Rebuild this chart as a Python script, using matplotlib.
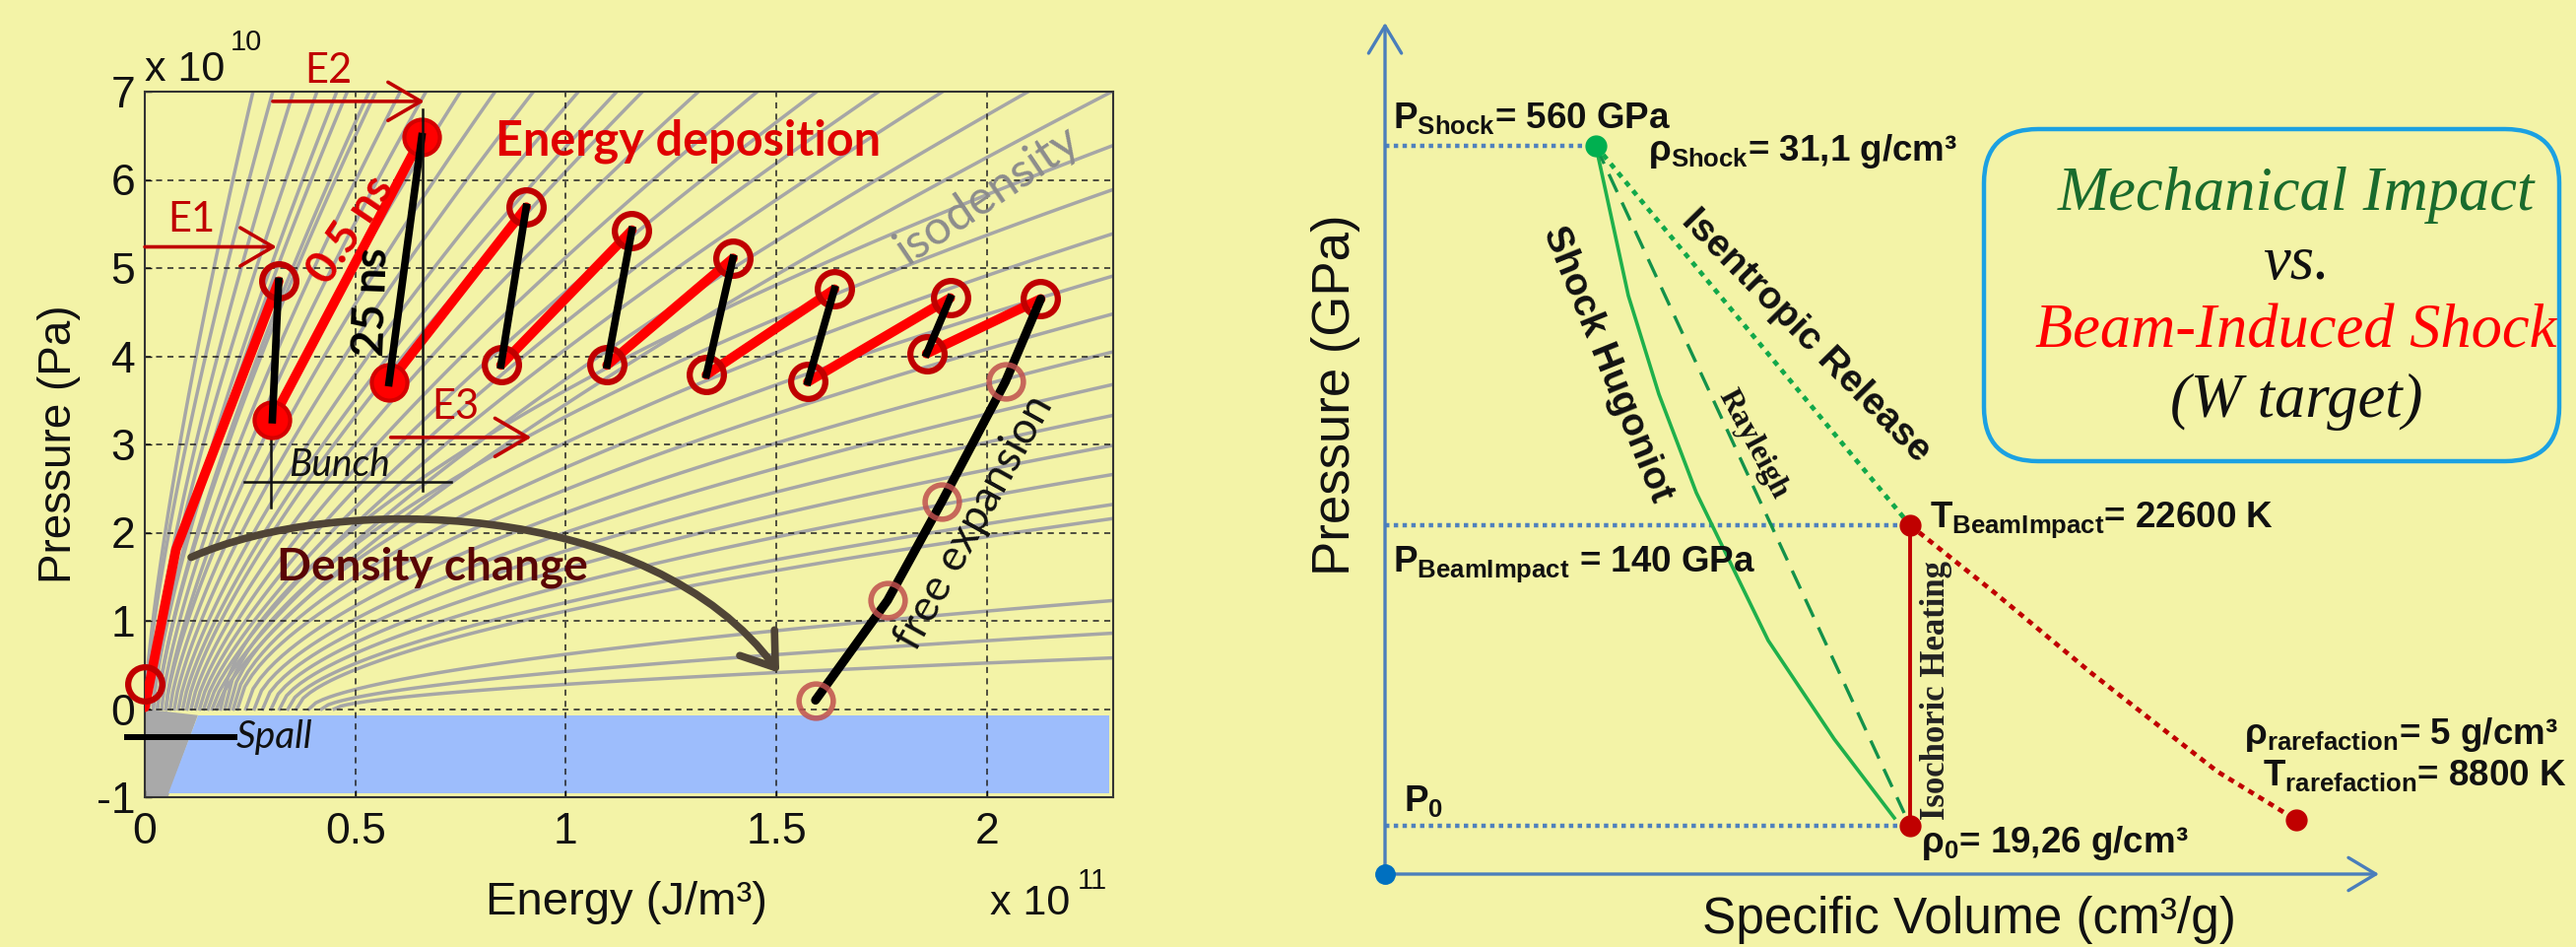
import numpy as np
import matplotlib.pyplot as plt
from matplotlib.patches import FancyArrowPatch, FancyBboxPatch, Polygon
from matplotlib.path import Path

plt.rcParams['mathtext.fontset'] = 'custom'
plt.rcParams['mathtext.rm'] = 'Liberation Sans'
plt.rcParams['mathtext.bf'] = 'Liberation Sans:bold'
plt.rcParams['mathtext.it'] = 'Liberation Sans:italic'

BG = '#f3f3a7'
SANS = 'Liberation Sans'
HUMAN = 'Lato'
SERIF = 'Liberation Serif'

# ---------------- left panel: P-E plane (E in 1e11 J/m3, P in 1e10 Pa) ----------------
energy_ticks = [0, 0.5, 1, 1.5, 2]
energy_labels = ['0', '0.5', '1', '1.5', '2']
pressure_ticks = [-1, 0, 1, 2, 3, 4, 5, 6, 7]
pressure_labels = ['-1', '0', '1', '2', '3', '4', '5', '6', '7']

# isodensity lines: where they leave the frame (top edge P=7 / right edge E=2.3) and where they start (P=0)
iso_top_E = [0.257, 0.304, 0.353, 0.409, 0.456, 0.481, 0.533, 0.549, 0.607, 0.668, 0.750, 0.832,
             0.923, 1.030, 1.121, 1.182, 1.315, 1.455, 1.596, 1.743, 1.895, 2.098, 2.297]
iso_top_start = [0.00, 0.00, 0.01, 0.01, 0.02, 0.02, 0.03, 0.03, 0.04, 0.05, 0.05, 0.06,
                 0.07, 0.08, 0.09, 0.10, 0.11, 0.12, 0.13, 0.14, 0.15, 0.16, 0.17]
iso_right_P = [6.39, 5.89, 5.39, 4.91, 4.48, 4.05, 3.68, 3.33, 2.99, 2.66, 2.32, 2.16, 1.23, 0.86, 0.58]
iso_right_start = [0.18, 0.19, 0.20, 0.21, 0.22, 0.24, 0.26, 0.28, 0.30, 0.32, 0.34, 0.36, 0.39, 0.42, 0.45]

# spall region and the crowded isodensity wedge next to it
spall_E = [0.126, 2.29, 2.29, 0.055]
spall_P = [-0.07, -0.07, -0.96, -0.96]
wedge_E = [0.0, 0.0, 0.126, 0.055]
wedge_P = [-1.0, 0.0, -0.07, -1.0]

# energy deposition path: bunch heating (red) and relaxation (black)
dep_start_E = [0.0, 0.074]
dep_start_P = [0.02, 1.81]
dep_top_E = [0.318, 0.658, 0.906, 1.157, 1.397, 1.638, 1.913, 2.128]
dep_top_P = [4.85, 6.49, 5.69, 5.43, 5.11, 4.76, 4.66, 4.65]
dep_bot_E = [0.303, 0.580, 0.846, 1.098, 1.334, 1.575, 1.857]
dep_bot_P = [3.28, 3.70, 3.90, 3.90, 3.79, 3.71, 4.03]
initial_E, initial_P = 0.0, 0.29

# free expansion after the last bunch
fe_E = [2.128, 2.044, 1.893, 1.764, 1.593]
fe_P = [4.65, 3.71, 2.35, 1.23, 0.10]

# density change arrow (cubic bezier control points)
dens_E = [0.11, 0.45, 1.20, 1.507]
dens_P = [1.72, 2.45, 2.40, 0.41]

# ---------------- right panel: schematic P-v diagram ----------------
shock_v, shock_p = 2.14, 7.39
beam_v, beam_p = 5.33, 3.54
init_v, init_p = 5.33, 0.49
rare_v, rare_p = 9.25, 0.55
hugoniot_v = [2.14, 2.47, 2.78, 3.16, 3.89, 4.56, 5.17]
hugoniot_p = [7.39, 5.87, 4.87, 3.87, 2.37, 1.37, 0.57]
rayleigh_v = [2.14, 5.27]
rayleigh_p = [7.39, 0.62]
release_v = [5.33, 6.17, 7.17, 8.45, 9.25]
release_p = [3.54, 2.87, 2.04, 1.04, 0.55]

W, H = 2615, 961
fig = plt.figure(figsize=(W / 100, H / 100), dpi=100, facecolor=BG)

# ======================= left panel =======================
ax = fig.add_axes([147 / W, 1 - 809 / H, 983 / W, 716 / H], facecolor=BG)
ax.set_xlim(0, 2.3)
ax.set_ylim(-1, 7)

for e_end, e0 in zip(iso_top_E, iso_top_start):
    e = np.linspace(e0, e_end, 120)
    p = 7.0 * ((e - e0) / (e_end - e0)) ** 0.75
    ax.plot(e, p, color='#a6a6a6', lw=2.5, zorder=1)
for p_end, e0 in zip(iso_right_P, iso_right_start):
    e = np.linspace(e0, 2.3, 120)
    p = p_end * ((e - e0) / (2.3 - e0)) ** 0.6
    ax.plot(e, p, color='#a6a6a6', lw=2.5, zorder=1)

ax.add_patch(Polygon(np.column_stack([wedge_E, wedge_P]), closed=True, fc='#a9a9a9', ec='none', zorder=1.2))
ax.add_patch(Polygon(np.column_stack([spall_E, spall_P]), closed=True, fc='#9dbdfc', ec='none', zorder=1.5))

ax.set_xticks(energy_ticks)
ax.set_xticklabels(energy_labels)
ax.set_yticks(pressure_ticks)
ax.set_yticklabels(pressure_labels)
ax.tick_params(direction='in', length=5, width=1, labelsize=32, colors='#111111')
ax.tick_params(axis='x', pad=11)
ax.tick_params(axis='y', pad=7)
for lab in ax.get_xticklabels() + ax.get_yticklabels():
    lab.set_family(SANS)
ax.grid(True, color='#222222', ls=(0, (4, 3.5)), lw=1.1)
for s in ax.spines.values():
    s.set_color('#333333')
    s.set_linewidth(1.5)

# bunch bracket
ax.plot([0.236, 0.727], [2.58, 2.58], color='#111111', lw=1.8, zorder=3)
ax.plot([0.299, 0.299], [2.28, 3.53], color='#111111', lw=1.8, zorder=3)
ax.plot([0.659, 0.659], [2.48, 6.80], color='#111111', lw=1.8, zorder=6)

# red heating segments
ax.plot([dep_start_E[0], dep_start_E[1], dep_top_E[0]], [dep_start_P[0], dep_start_P[1], dep_top_P[0]],
        color='#ff0000', lw=7, solid_capstyle='round', zorder=3)
for i in range(len(dep_bot_E)):
    ax.plot([dep_bot_E[i], dep_top_E[i + 1]], [dep_bot_P[i], dep_top_P[i + 1]],
            color='#ff0000', lw=7, solid_capstyle='round', zorder=3)

# markers
open_E = [initial_E] + [dep_top_E[0]] + dep_top_E[2:] + dep_bot_E[2:]
open_P = [initial_P] + [dep_top_P[0]] + dep_top_P[2:] + dep_bot_P[2:]
ax.plot(open_E, open_P, ls='none', marker='o', ms=25, mfc='none', mec='#c00000', mew=4.5, zorder=4,
        clip_on=False)
ax.plot([dep_bot_E[0], dep_bot_E[1], dep_top_E[1]], [dep_bot_P[0], dep_bot_P[1], dep_top_P[1]],
        ls='none', marker='o', ms=26, mfc='#ff0000', mec='#d40000', mew=3, zorder=4)

# black relaxation segments
for i in range(len(dep_bot_E)):
    ax.plot([dep_top_E[i], dep_bot_E[i]], [dep_top_P[i], dep_bot_P[i]], color='#000000', lw=5.5,
            zorder=5)

# free expansion
ax.plot(fe_E, fe_P, color='#000000', lw=6.5, solid_capstyle='round', solid_joinstyle='round', zorder=5)
ax.plot(fe_E[1:], fe_P[1:], ls='none', marker='o', ms=25, mfc='none', mec='#c0504d', mew=4, alpha=0.85,
        zorder=6)

# density change arrow
dens_path = Path(np.column_stack([dens_E, dens_P]), [Path.MOVETO, Path.CURVE4, Path.CURVE4, Path.CURVE4])
ax.add_patch(FancyArrowPatch(path=dens_path, arrowstyle='->,head_length=0.5,head_width=0.35',
                             mutation_scale=45, color='#4f4436', lw=5.5, zorder=4))

# E1 / E2 / E3 arrows
arrow_kw = dict(arrowstyle='->,head_length=0.6,head_width=0.35', color='#c00000', lw=2.6,
                mutation_scale=40, shrinkA=0, shrinkB=0)
ax.annotate('', xy=(0.313, 5.24), xytext=(0.0, 5.24), arrowprops=arrow_kw, zorder=6)
ax.annotate('', xy=(0.664, 6.89), xytext=(0.304, 6.89), arrowprops=arrow_kw, zorder=6)
ax.annotate('', xy=(0.918, 3.08), xytext=(0.584, 3.08), arrowprops=arrow_kw, zorder=6)
ax.text(0.11, 5.55, 'E1', color='#c00000', fontsize=30, family=HUMAN, ha='center', va='center', zorder=7)
ax.text(0.435, 7.23, 'E2', color='#c00000', fontsize=30, family=HUMAN, ha='center', va='center', zorder=7,
        clip_on=False)
ax.text(0.738, 3.43, 'E3', color='#c00000', fontsize=30, family=HUMAN, ha='center', va='center', zorder=7)

ax.text(0.834, 6.28, 'Energy deposition', color='#e00000', fontsize=35, fontweight='bold', family=HUMAN,
        ha='left', va='baseline', zorder=7)
ax.text(0.313, 1.46, 'Density change', color='#5a0505', fontsize=33, fontweight='bold', family=HUMAN,
        ha='left', va='baseline', zorder=7)
ax.text(2.0, 5.83, 'isodensity', color='#8c8c8c', fontsize=35, family=HUMAN, rotation=34,
        rotation_mode='anchor', ha='center', va='center', zorder=7)
ax.text(0.49, 5.43, '0.5 ns', color='#e00000', fontsize=33, fontweight='bold', family=HUMAN, rotation=56,
        rotation_mode='anchor', ha='center', va='center', zorder=7)
ax.text(0.54, 4.62, '25 ns', color='#000000', fontsize=33, fontweight='bold', family=HUMAN, rotation=88,
        rotation_mode='anchor', ha='center', va='center', zorder=7)
ax.text(0.463, 2.76, 'Bunch', color='#111111', fontsize=28, style='italic', family=HUMAN,
        ha='center', va='center', zorder=7)
ax.text(0.217, -0.32, 'Spall', color='#111111', fontsize=28, style='italic', family=HUMAN,
        ha='left', va='center', zorder=7)
ax.plot([-0.042, 0.213], [-0.32, -0.32], color='#000000', lw=4.3, zorder=7, clip_on=False)
ax.text(1.97, 2.11, 'free expansion', color='#111111', fontsize=32, family=HUMAN, rotation=61,
        rotation_mode='anchor', ha='center', va='center', zorder=7)

# axis labels and multipliers
ax.text(1.143, -2.335, 'Energy (J/m³)', fontsize=34, family=SANS, color='#111111', ha='center',
        va='baseline', clip_on=False)
ax.text(-0.203, 3.0, 'Pressure (Pa)', fontsize=33, family=SANS, color='#111111', rotation=90,
        ha='center', va='center', clip_on=False)
ax.text(0.0, 7.12, 'x 10', fontsize=31, family=SANS, color='#111111', ha='left', va='baseline',
        clip_on=False)
ax.text(0.203, 7.47, '10', fontsize=21, family=SANS, color='#111111', ha='left', va='baseline',
        clip_on=False)
ax.text(2.007, -2.335, 'x 10', fontsize=31, family=SANS, color='#111111', ha='left', va='baseline',
        clip_on=False)
ax.text(2.215, -2.04, '11', fontsize=21, family=SANS, color='#111111', ha='left', va='baseline',
        clip_on=False)

# ======================= right panel =======================
ax2 = fig.add_axes([1300 / W, 0, 1315 / W, 1])
ax2.set_xlim(-1.06, 12.09)
ax2.set_ylim(-0.74, 8.87)
ax2.axis('off')

axis_col = '#4a7ebb'
ax2.annotate('', xy=(0, 8.64), xytext=(0, 0),
             arrowprops=dict(arrowstyle='->,head_length=0.5,head_width=0.3', color=axis_col, lw=2.4,
                             mutation_scale=40, shrinkA=0, shrinkB=0))
ax2.annotate('', xy=(10.09, 0), xytext=(0, 0),
             arrowprops=dict(arrowstyle='->,head_length=0.5,head_width=0.3', color=axis_col, lw=2.4,
                             mutation_scale=40, shrinkA=0, shrinkB=0))
ax2.plot([0], [0], marker='o', ms=14, color='#0070c0', zorder=5)

for pv, pp in [(shock_v, shock_p), (beam_v, beam_p), (init_v, init_p)]:
    ax2.plot([0, pv], [pp, pp], color='#4f81bd', lw=3.2, ls=(0, (1, 1)), dash_capstyle='butt', zorder=2)

ax2.plot(hugoniot_v, hugoniot_p, color='#1fb04b', lw=2.6, zorder=3, solid_joinstyle='round')
ax2.plot(rayleigh_v, rayleigh_p, color='#13924a', lw=2.4, ls=(0, (6, 3.5)), zorder=3)
ax2.plot([shock_v, beam_v], [shock_p, beam_p], color='#12a84a', lw=3.4, ls=(0, (1.2, 1.3)), zorder=3)
ax2.plot([beam_v, init_v], [beam_p, init_p], color='#c00000', lw=2.8, zorder=3)
ax2.plot(release_v, release_p, color='#c00000', lw=3.4, ls=(0, (1.3, 1.2)), zorder=3)

ax2.plot([shock_v], [shock_p], marker='o', ms=15, color='#00b050', zorder=5)
ax2.plot([beam_v, init_v, rare_v], [beam_p, init_p, rare_p], ls='none', marker='o', ms=15,
         color='#c00000', zorder=5)

lab_kw = dict(fontsize=26.5, fontweight='bold', family=SANS, color='#111111', ha='left', va='baseline')
ax2.text(0.08, 7.57, r'P$_{\mathbf{Shock}}$= 560 GPa', **lab_kw)
ax2.text(2.67, 7.24, r'ρ$_{\mathbf{Shock}}$= 31,1 g/cm³', **lab_kw)
ax2.text(0.08, 3.07, r'P$_{\mathbf{BeamImpact}}$ = 140 GPa', **lab_kw)
ax2.text(0.19, 0.64, r'P$_{\mathbf{0}}$', **lab_kw)
ax2.text(5.53, 3.52, r'T$_{\mathbf{BeamImpact}}$= 22600 K', **lab_kw)
ax2.text(5.44, 0.22, r'ρ$_{\mathbf{0}}$= 19,26 g/cm³', **lab_kw)
ax2.text(8.72, 1.32, r'ρ$_{\mathbf{rarefaction}}$= 5 g/cm³', **lab_kw)
ax2.text(8.91, 0.90, r'T$_{\mathbf{rarefaction}}$= 8800 K', **lab_kw)

ax2.text(2.26, 5.17, 'Shock Hugoniot', fontsize=28, fontweight='bold', family=SANS, color='#111111',
         rotation=-68, rotation_mode='anchor', ha='center', va='center')
ax2.text(4.27, 5.46, 'Isentropic Release', fontsize=28, fontweight='bold', family=SANS, color='#111111',
         rotation=-45.5, rotation_mode='anchor', ha='center', va='center')
ax2.text(3.74, 4.36, 'Rayleigh', fontsize=23, fontweight='bold', family=SERIF, color='#111111',
         rotation=-62, rotation_mode='anchor', ha='center', va='center')
ax2.text(5.59, 1.86, 'Isochoric Heating', fontsize=25, fontweight='bold', family=SERIF, color='#222222',
         rotation=90, ha='center', va='center')

ax2.text(-0.50, 4.86, 'Pressure (GPa)', fontsize=38, family=SANS, color='#111111', rotation=90,
         ha='center', va='center')
ax2.text(5.93, -0.60, 'Specific Volume (cm³/g)', fontsize=37, family=SANS, color='#111111',
         ha='center', va='baseline')

# title box
ax2.add_patch(FancyBboxPatch((6.08, 4.19), 5.84, 3.37, boxstyle='round,pad=0,rounding_size=0.55',
                             fc='none', ec='#1ba1e2', lw=3.2, zorder=4))
title_kw = dict(fontsize=45, family=SERIF, style='italic', ha='center', va='baseline')
ax2.text(9.25, 6.74, 'Mechanical Impact', color='#1a6b2d', **title_kw)
ax2.text(9.25, 6.04, 'vs.', color='#111111', **title_kw)
ax2.text(9.25, 5.34, 'Beam-Induced Shock', color='#ff0000', **title_kw)
ax2.text(9.25, 4.64, '(W target)', color='#111111', **title_kw)

fig.savefig('out.png', dpi=100, facecolor=BG)
